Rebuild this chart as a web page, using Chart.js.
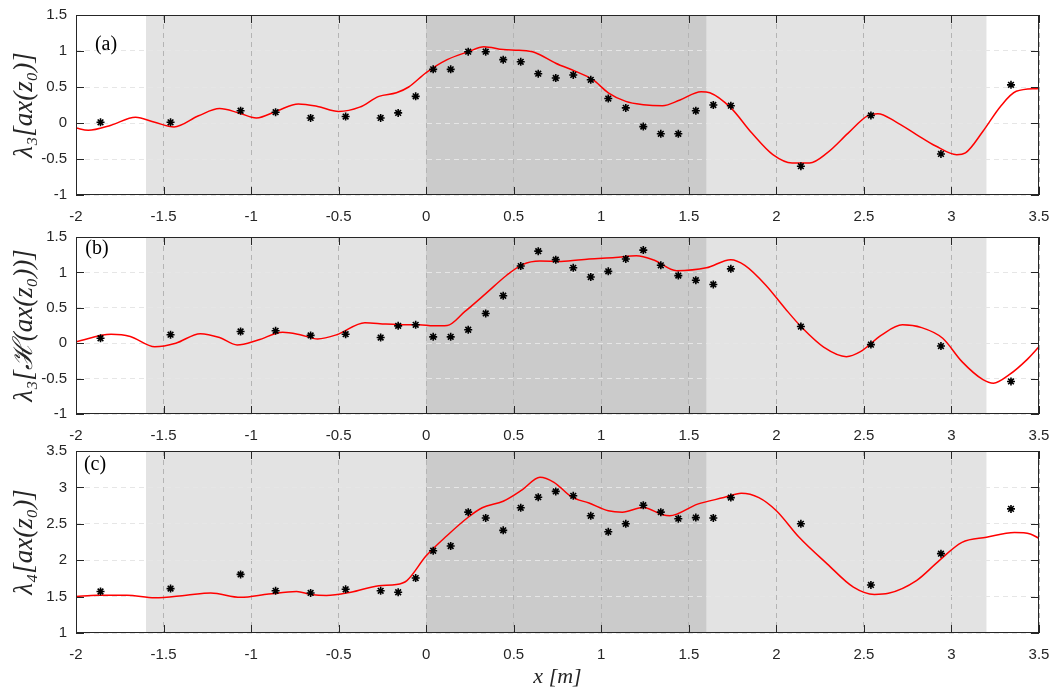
<!DOCTYPE html>
<html><head><meta charset="utf-8">
<script src="https://cdn.jsdelivr.net/npm/chart.js@4/dist/chart.umd.min.js"></script>
<style>
html,body{margin:0;padding:0;background:#fff;}
#wrap{position:relative;width:1054px;height:693px;overflow:hidden;}
canvas{position:absolute;left:0;top:0;}
</style></head><body>
<div id="wrap">
<canvas id="ca" width="1054" height="693"></canvas>
<canvas id="cb" width="1054" height="693"></canvas>
<canvas id="cc" width="1054" height="693"></canvas>
</div>
<script>
// ---- data ----
const xTicks = [-2, -1.5, -1, -0.5, 0, 0.5, 1, 1.5, 2, 2.5, 3, 3.5];
const shadeLight = [-1.6, 3.2];
const shadeDark = [0, 1.6];

const xPts = [-1.86,-1.46,-1.06,-0.86,-0.66,-0.46,-0.26,-0.16,-0.06,0.04,0.14,0.24,0.34,0.44,0.54,0.64,0.74,0.84,0.94,1.04,1.14,1.24,1.34,1.44,1.54,1.64,1.74,2.14,2.54,2.94,3.34];
const ptsA = [0.01,0.01,0.17,0.15,0.07,0.09,0.07,0.14,0.37,0.745,0.745,0.99,0.99,0.88,0.85,0.685,0.625,0.667,0.60,0.34,0.21,-0.05,-0.15,-0.15,0.17,0.25,0.24,-0.60,0.105,-0.43,0.53];
const ptsB = [0.07,0.12,0.165,0.175,0.11,0.127,0.08,0.245,0.26,0.09,0.09,0.19,0.42,0.67,1.09,1.30,1.18,1.065,0.935,1.015,1.19,1.315,1.10,0.955,0.89,0.83,1.05,0.235,-0.02,-0.04,-0.54];
const ptsC = [1.57,1.61,1.805,1.58,1.55,1.60,1.58,1.56,1.755,2.13,2.195,2.66,2.58,2.41,2.72,2.865,2.945,2.885,2.61,2.39,2.50,2.755,2.66,2.57,2.585,2.58,2.86,2.50,1.66,2.09,2.705];

const curveAx = [-2,-1.93,-1.80,-1.66,-1.55,-1.44,-1.30,-1.18,-1.07,-0.97,-0.85,-0.73,-0.62,-0.50,-0.38,-0.27,-0.17,-0.10,0,0.12,0.24,0.33,0.44,0.53,0.62,0.74,0.85,0.95,1.04,1.14,1.24,1.35,1.45,1.57,1.62,1.74,1.86,1.98,2.09,2.19,2.29,2.41,2.52,2.58,2.68,2.80,2.91,3.03,3.08,3.18,3.28,3.37,3.50];
const curveAy = [-0.07,-0.10,-0.03,0.08,0.01,-0.055,0.10,0.20,0.14,0.07,0.17,0.265,0.23,0.16,0.22,0.37,0.42,0.50,0.70,0.88,0.99,1.06,1.02,1.01,0.98,0.83,0.72,0.605,0.42,0.30,0.255,0.24,0.32,0.435,0.42,0.21,-0.14,-0.44,-0.555,-0.555,-0.415,-0.14,0.10,0.13,0.02,-0.16,-0.32,-0.44,-0.415,-0.115,0.23,0.44,0.48];

const curveBx = [-2,-1.80,-1.69,-1.55,-1.43,-1.29,-1.18,-1.08,-0.96,-0.82,-0.72,-0.62,-0.51,-0.35,-0.23,-0.11,-0.04,0.04,0.12,0.22,0.34,0.46,0.55,0.65,0.77,0.93,1.08,1.20,1.30,1.43,1.60,1.74,1.82,1.94,2.05,2.15,2.27,2.40,2.48,2.60,2.72,2.83,2.95,3.06,3.18,3.24,3.33,3.43,3.50];
const curveBy = [0.02,0.125,0.095,-0.05,0.0,0.135,0.08,-0.025,0.045,0.155,0.12,0.06,0.12,0.29,0.27,0.26,0.26,0.245,0.25,0.445,0.70,0.96,1.11,1.16,1.155,1.19,1.21,1.235,1.175,1.025,1.065,1.18,1.10,0.82,0.49,0.21,-0.055,-0.19,-0.12,0.115,0.26,0.22,0.07,-0.26,-0.515,-0.565,-0.445,-0.235,-0.05];

const curveCx = [-2,-1.88,-1.71,-1.55,-1.37,-1.23,-1.06,-0.90,-0.74,-0.66,-0.57,-0.43,-0.27,-0.17,-0.11,0,0.12,0.24,0.32,0.44,0.55,0.65,0.73,0.83,0.93,1.04,1.12,1.24,1.35,1.39,1.55,1.70,1.80,1.90,2.0,2.13,2.29,2.44,2.56,2.64,2.80,2.93,3.06,3.20,3.36,3.45,3.50];
const curveCy = [1.50,1.52,1.52,1.485,1.52,1.55,1.49,1.535,1.57,1.53,1.515,1.56,1.65,1.665,1.72,2.06,2.34,2.59,2.72,2.81,2.97,3.14,3.07,2.87,2.785,2.68,2.66,2.725,2.625,2.61,2.77,2.86,2.92,2.86,2.68,2.315,1.95,1.63,1.53,1.545,1.72,1.995,2.245,2.315,2.38,2.36,2.30];

// ---- drawing ----
const W = 1054, H = 693;
const fmt = v => String(Math.round(v * 100) / 100);
const frame = {
  id: 'frame',
  beforeDraw(chart, args, o) {
    const {ctx, chartArea: a, scales: {x}} = chart;
    ctx.save();
    let l = x.getPixelForValue(shadeLight[0]), r = x.getPixelForValue(shadeLight[1]);
    ctx.fillStyle = '#e3e3e3';
    ctx.fillRect(l, a.top, r - l, a.bottom - a.top);
    l = x.getPixelForValue(shadeDark[0]); r = x.getPixelForValue(shadeDark[1]);
    ctx.fillStyle = '#cbcbcb';
    ctx.fillRect(l, a.top, r - l, a.bottom - a.top);
    ctx.restore();
  },
  afterDraw(chart, args, o) {
    const {ctx, chartArea: a, scales: {x, y}} = chart;
    ctx.save();
    ctx.strokeStyle = '#262626';
    ctx.lineWidth = 1;
    ctx.strokeRect(a.left + 0.5, a.top + 0.5, a.right - a.left - 1, a.bottom - a.top - 1);
    const L = 8;
    ctx.beginPath();
    x.ticks.forEach(t => {
      const p = Math.round(x.getPixelForValue(t.value)) + 0.5;
      ctx.moveTo(p, a.bottom); ctx.lineTo(p, a.bottom - L);
      ctx.moveTo(p, a.top); ctx.lineTo(p, a.top + L);
    });
    y.ticks.forEach(t => {
      const p = Math.round(y.getPixelForValue(t.value)) + 0.5;
      ctx.moveTo(a.left, p); ctx.lineTo(a.left + L, p);
      ctx.moveTo(a.right, p); ctx.lineTo(a.right - L, p);
    });
    ctx.stroke();
    ctx.fillStyle = '#000';
    ctx.font = '20px "Liberation Serif"';
    ctx.textBaseline = 'middle';
    ctx.textAlign = 'center';
    ctx.fillText(o.label, a.left + o.lx, a.top + o.ly);
    ctx.restore();
  }
};

function makeChart(id, pts, cx, cy, yMin, yMax, top, bottom, yTitle, label, lx, ly, showX) {
  new Chart(document.getElementById(id), {
    data: {
      datasets: [
        {type: 'scatter', data: xPts.map((v, i) => ({x: v, y: pts[i]})),
         pointStyle: 'star', pointRadius: 4, borderWidth: 1.6, borderColor: '#000', backgroundColor: '#000'},
        {type: 'line', data: cx.map((v, i) => ({x: v, y: cy[i]})),
         borderColor: '#ff0000', borderWidth: 1.5, pointRadius: 0, cubicInterpolationMode: 'monotone', fill: false}
      ]
    },
    options: {
      responsive: false, animation: false, devicePixelRatio: 1,
      layout: {padding: {left: 0, right: W - 1039, top: top, bottom: 0}},
      plugins: {legend: {display: false}, tooltip: {enabled: false},
        frame: {label: label, lx: lx, ly: ly}},
      scales: {
        x: {type: 'linear', min: -2, max: 3.5,
          afterFit(s) { s.height = H - bottom; s.paddingLeft = 0; s.paddingRight = 0; },
          afterBuildTicks(s) { s.ticks = xTicks.map(v => ({value: v})); },
          ticks: {padding: 13, color: '#262626', maxRotation: 0, autoSkip: false,
            font: {family: 'Liberation Sans', size: 15}, callback: fmt},
          grid: {color: '#b4b4b4', drawTicks: false, lineWidth: 1},
          border: {display: false, dash: [5, 4]},
          title: {display: showX, text: 'x [m]', color: '#262626',
            font: {family: 'Liberation Serif', size: 22, style: 'italic'}, padding: {top: 0, bottom: 3}}
        },
        y: {type: 'linear', min: yMin, max: yMax,
          afterFit(s) { s.width = 76; s.paddingTop = 0; s.paddingBottom = 0; },
          ticks: {stepSize: 0.5, padding: 9, color: '#262626',
            font: {family: 'Liberation Sans', size: 15}, callback: fmt},
          grid: {color: '#e6e6e6', drawTicks: false, lineWidth: 1},
          border: {display: false, dash: [5, 4]},
          title: {display: true, text: yTitle, color: '#262626',
            font: {family: 'Liberation Serif', size: 27, style: 'italic'}, padding: {top: 9, bottom: 0}}
        }
      }
    },
    plugins: [frame]
  });
}

makeChart('ca', ptsA, curveAx, curveAy, -1, 1.5, 15, 195, 'λ₃[ax(z₀)]', '(a)', 30, 30, false);
makeChart('cb', ptsB, curveBx, curveBy, -1, 1.5, 237, 414, 'λ₃[ℋ(ax(z₀))]', '(b)', 21, 12, false);
makeChart('cc', ptsC, curveCx, curveCy, 1, 3.5, 451, 633, 'λ₄[ax(z₀)]', '(c)', 19, 14, true);
</script>
</body></html>
